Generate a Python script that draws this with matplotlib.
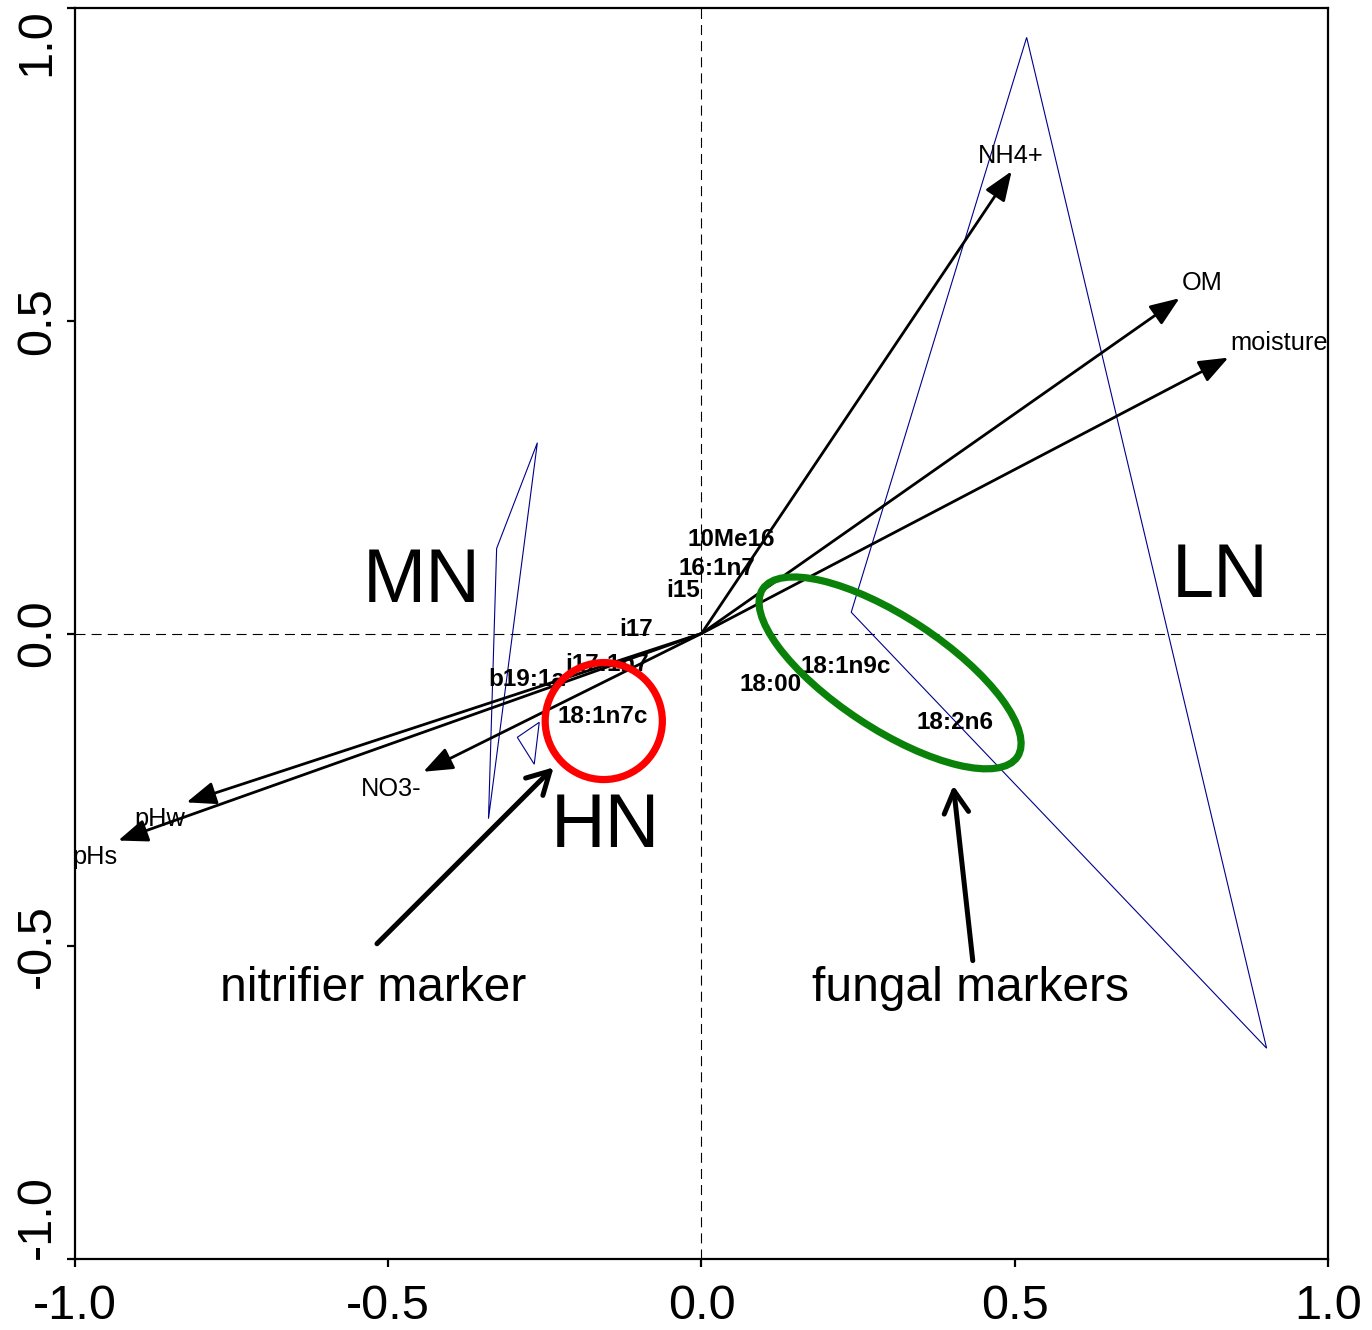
"""Ordination biplot: PLFA markers, soil variables and treatment hulls."""

import matplotlib

matplotlib.use("Agg")
import matplotlib.pyplot as plt
from matplotlib.patches import Ellipse

plt.rcParams["font.family"] = ["Liberation Sans", "DejaVu Sans"]

# environmental vectors (arrow tips) and where their labels sit
env_names = ["NH4+", "OM", "moisture", "NO3-", "pHw", "pHs"]
env_x = [0.495, 0.763, 0.841, -0.444, -0.822, -0.931]
env_y = [0.739, 0.536, 0.441, -0.221, -0.270, -0.331]
env_label_x = [0.494, 0.799, 0.922, -0.496, -0.864, -0.969]
env_label_y = [0.764, 0.560, 0.465, -0.248, -0.296, -0.358]

# PLFA species scores
species = ["10Me16", "16:1n7", "i15", "i17", "i17:1n7", "b19:1a",
           "18:1n7c", "18:00", "18:1n9c", "18:2n6"]
species_x = [0.048, 0.024, -0.029, -0.105, -0.150, -0.279,
             -0.158, 0.111, 0.230, 0.405]
species_y = [0.150, 0.104, 0.068, 0.007, -0.049, -0.073,
             -0.133, -0.081, -0.053, -0.142]

# convex hulls of site scores per treatment
hull_mn_x = [-0.262, -0.327, -0.340]
hull_mn_y = [0.305, 0.136, -0.296]
hull_hn_x = [-0.294, -0.267, -0.259]
hull_hn_y = [-0.166, -0.209, -0.142]
hull_ln_x = [0.519, 0.239, 0.902]
hull_ln_y = [0.953, 0.034, -0.663]

groups = ["MN", "HN", "LN"]
group_x = [-0.447, -0.154, 0.828]
group_y = [0.050, -0.342, 0.059]

ticks = [-1.0, -0.5, 0.0, 0.5, 1.0]
tick_labels = ["-1.0", "-0.5", "0.0", "0.5", "1.0"]

fig = plt.figure(figsize=(13.72, 13.3), dpi=100)
ax = fig.add_axes([75 / 1372, 71 / 1330, 1253 / 1372, 1251 / 1330])
ax.set_xlim(-1, 1)
ax.set_ylim(-1, 1)

dash = (0, (9, 5.5))
ax.axhline(0, color="black", lw=0.8, linestyle=dash, zorder=1)
ax.axvline(0, color="black", lw=0.8, linestyle=dash, zorder=1)

for hx, hy in [(hull_mn_x, hull_mn_y), (hull_hn_x, hull_hn_y),
               (hull_ln_x, hull_ln_y)]:
    ax.fill(hx, hy, facecolor="none", edgecolor="#00008b", lw=0.8, zorder=2)

for name, x, y in zip(species, species_x, species_y):
    ax.text(x, y, name, ha="center", va="center", fontsize=17.5,
            fontweight="bold", zorder=3)

for x, y, lx, ly, name in zip(env_x, env_y, env_label_x, env_label_y,
                              env_names):
    ax.annotate("", xy=(x, y), xytext=(0, 0),
                arrowprops=dict(arrowstyle="-|>,head_length=0.9,head_width=0.35",
                                mutation_scale=20, lw=2.0, color="black",
                                shrinkA=0, shrinkB=0),
                zorder=4)
    ax.text(lx, ly, name, ha="center", va="center", fontsize=18.3, zorder=4,
            clip_on=True)

for name, x, y in zip(groups, group_x, group_y):
    ax.text(x, y, name, ha="center", va="baseline", fontsize=54.5, zorder=4)

ax.add_patch(Ellipse((-0.156, -0.140), 0.187, 0.187, fill=False,
                     edgecolor="#ff0000", lw=5.2, zorder=5))
ax.add_patch(Ellipse((0.301, -0.063), 0.487, 0.1785, angle=-33.4, fill=False,
                     edgecolor="#0a820a", lw=5.2, zorder=5))

ax.annotate("", xy=(-0.236, -0.214), xytext=(-0.518, -0.496),
            arrowprops=dict(arrowstyle="->,head_length=0.4,head_width=0.22",
                            mutation_scale=40, lw=3.6, color="black",
                            shrinkA=0, shrinkB=0), zorder=6)
ax.annotate("", xy=(0.402, -0.243), xytext=(0.433, -0.523),
            arrowprops=dict(arrowstyle="->,head_length=0.4,head_width=0.22",
                            mutation_scale=40, lw=3.6, color="black",
                            shrinkA=0, shrinkB=0), zorder=6)
ax.text(-0.524, -0.587, "nitrifier marker", ha="center", va="baseline",
        fontsize=34.5, zorder=6)
ax.text(0.429, -0.587, "fungal markers", ha="center", va="baseline",
        fontsize=34.5, zorder=6)

for side in ax.spines.values():
    side.set_linewidth(1.6)
ax.set_xticks(ticks)
ax.set_xticklabels(tick_labels, fontsize=35)
ax.set_yticks(ticks)
ax.set_yticklabels(tick_labels, fontsize=35, rotation=90, va="center")
ylabels = ax.get_yticklabels()
ylabels[0].set_va("bottom")
ylabels[-1].set_va("top")
ax.tick_params(axis="x", direction="out", length=6, width=1.6, pad=12)
ax.tick_params(axis="y", direction="out", length=6, width=1.6, pad=5)

fig.savefig("out.png", dpi=100)
